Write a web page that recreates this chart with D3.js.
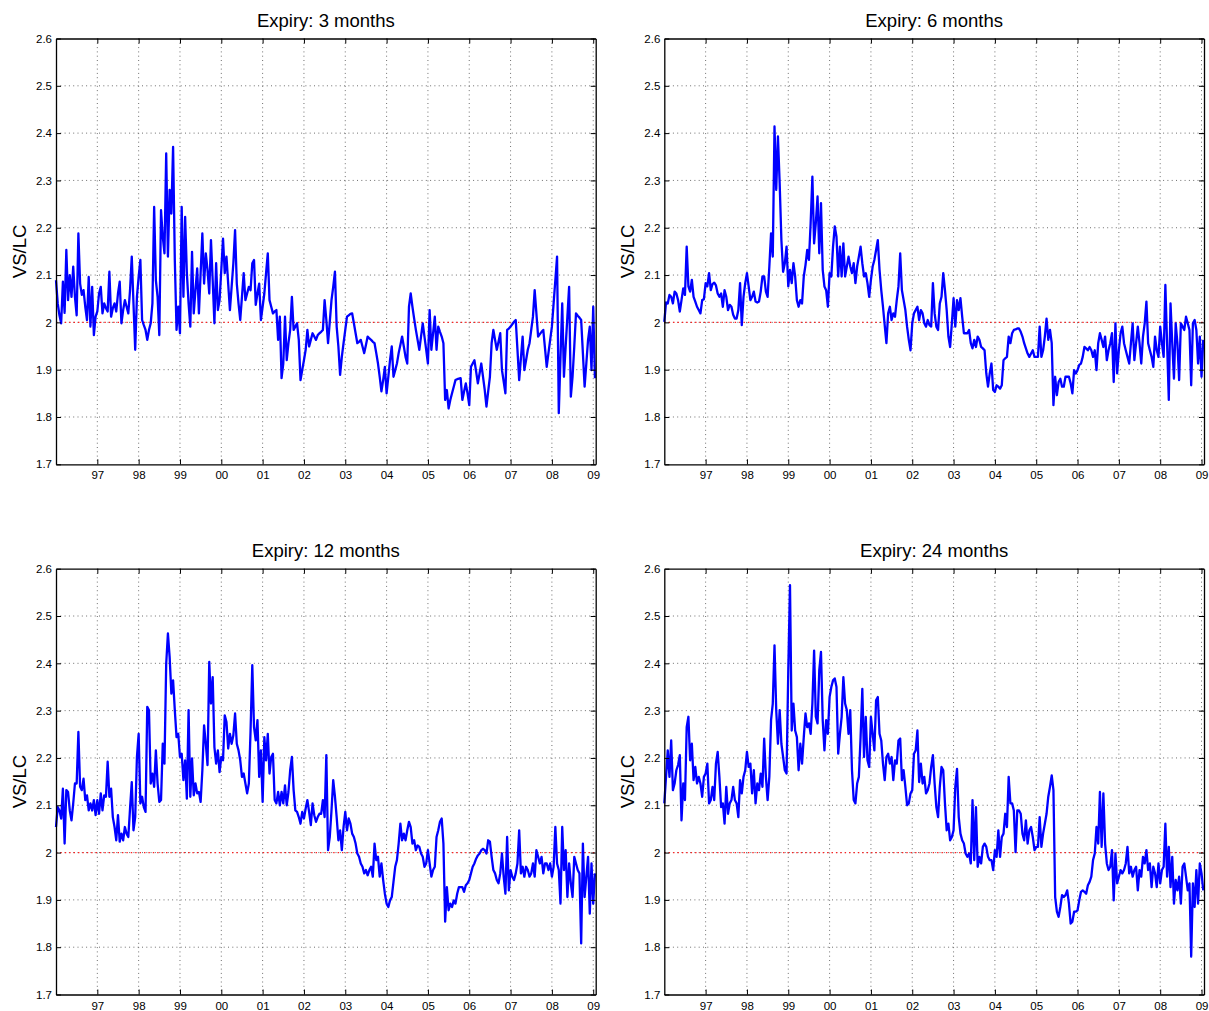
<!DOCTYPE html>
<html><head><meta charset="utf-8">
<script src="https://cdn.jsdelivr.net/npm/d3@7"></script>
<style>
body{margin:0;background:#fff}
svg{display:block}
text{font-family:"Liberation Sans",Arial,Helvetica,sans-serif;fill:#000}
</style>
</head><body><div id="chart"></div>
<script>
// ---------------- data ----------------
const titles = ["Expiry: 3 months","Expiry: 6 months","Expiry: 12 months","Expiry: 24 months"];
const yLabel = "VS/LC";
const startYear = 1996;          // first observation
const obsPerYear = 24;           // semi-monthly observations
const xDomain = [1996, 2009.06];
const yDomain = [1.7, 2.6];
const xTickYears = [1997,1998,1999,2000,2001,2002,2003,2004,2005,2006,2007,2008,2009];
const xTickLabels = ["97","98","99","00","01","02","03","04","05","06","07","08","09"];
const yTickValues = [1.7,1.8,1.9,2.0,2.1,2.2,2.3,2.4,2.5,2.6];
const yTickLabels = ["1.7","1.8","1.9","2","2.1","2.2","2.3","2.4","2.5","2.6"];
const refLevel = 2.0;

const vs3m = [
2.089,2.040,2.015,1.998,2.086,2.020,2.153,2.047,2.100,2.054,2.118,2.054,
2.015,2.188,2.082,2.058,2.068,2.033,2.005,2.096,1.991,2.075,1.973,2.012,
2.023,2.061,2.075,2.019,2.040,2.030,2.023,2.107,2.012,2.030,2.040,2.023,
2.061,2.086,1.998,2.026,2.047,2.033,2.019,2.068,2.139,2.040,1.942,2.054,
2.096,2.132,2.005,1.994,1.984,1.963,1.984,1.998,2.040,2.244,2.089,2.054,
1.973,2.237,2.181,2.146,2.357,2.139,2.280,2.230,2.371,2.132,1.984,2.033,
1.977,2.244,2.054,2.223,2.104,2.040,1.991,2.149,2.019,2.068,2.114,2.019,
2.104,2.188,2.082,2.146,2.111,2.061,2.174,2.089,1.998,2.125,2.026,2.047,
2.111,2.177,2.104,2.139,2.082,2.026,2.075,2.125,2.195,2.082,2.040,2.005,
2.054,2.104,2.047,2.061,2.075,2.068,2.125,2.132,2.037,2.061,2.082,2.005,
2.033,2.061,2.104,2.146,2.047,2.033,2.019,2.023,2.026,1.963,2.012,1.882,
1.913,2.012,1.920,1.956,1.984,2.054,1.984,1.991,1.998,1.963,1.878,1.899,
1.920,1.942,1.984,1.949,1.963,1.977,1.970,1.963,1.973,1.977,1.980,1.984,
2.047,2.005,1.956,2.001,2.047,2.075,2.107,1.991,1.949,1.889,1.927,1.956,
1.984,2.012,2.015,2.018,2.019,1.998,1.977,1.956,1.959,1.963,1.949,1.935,
1.952,1.970,1.966,1.963,1.959,1.956,1.935,1.913,1.885,1.854,1.878,1.906,
1.850,1.885,1.920,1.949,1.885,1.899,1.913,1.935,1.952,1.970,1.949,1.927,
1.913,2.033,2.061,2.033,2.008,1.984,1.963,1.942,1.970,1.998,1.970,1.942,
1.913,2.026,1.942,1.977,2.012,1.942,1.991,1.980,1.970,1.956,1.836,1.857,
1.818,1.836,1.850,1.864,1.878,1.880,1.881,1.882,1.836,1.854,1.871,1.850,
1.825,1.906,1.913,1.920,1.896,1.871,1.892,1.913,1.885,1.857,1.822,1.854,
1.885,1.956,1.984,1.963,1.942,1.959,1.977,1.899,1.875,1.850,1.984,1.987,
1.991,1.996,2.001,2.005,1.942,1.878,1.924,1.970,1.899,1.920,1.942,1.956,
1.984,2.012,2.068,2.019,1.970,1.975,1.980,1.984,1.945,1.906,1.935,1.963,
1.991,2.040,2.089,2.139,1.808,1.927,2.040,1.885,1.949,2.012,2.075,1.843,
1.885,1.949,2.019,2.014,2.010,2.005,1.935,1.864,1.913,1.963,1.991,1.899,
2.033,1.882];

const vs6m = [
2.001,2.042,2.040,2.058,2.054,2.040,2.065,2.061,2.047,2.023,2.047,2.072,
2.058,2.160,2.076,2.065,2.090,2.054,2.044,2.033,2.026,2.019,2.047,2.049,
2.083,2.076,2.104,2.068,2.081,2.084,2.078,2.061,2.054,2.061,2.033,2.068,
2.054,2.026,2.037,2.033,2.016,2.008,2.008,2.026,2.083,1.994,2.054,2.083,
2.104,2.076,2.047,2.054,2.065,2.044,2.042,2.044,2.065,2.097,2.097,2.065,
2.054,2.118,2.188,2.139,2.414,2.280,2.393,2.294,2.174,2.107,2.125,2.160,
2.076,2.111,2.083,2.125,2.097,2.047,2.033,2.047,2.040,2.097,2.121,2.153,
2.132,2.210,2.308,2.167,2.210,2.266,2.146,2.252,2.111,2.076,2.068,2.033,
2.104,2.097,2.160,2.203,2.181,2.097,2.160,2.097,2.167,2.097,2.118,2.139,
2.118,2.104,2.125,2.083,2.118,2.139,2.160,2.125,2.097,2.104,2.083,2.054,
2.090,2.118,2.132,2.153,2.174,2.111,2.068,2.033,1.994,1.956,2.019,2.033,
2.005,2.019,2.012,2.047,2.076,2.146,2.068,2.047,2.026,1.991,1.963,1.941,
1.998,2.019,2.026,2.033,2.005,2.026,2.019,1.998,1.991,2.005,1.994,1.991,
2.083,2.019,1.991,1.984,2.040,2.054,2.104,2.068,2.026,1.970,1.948,1.998,
2.051,1.991,2.047,2.026,2.051,2.012,1.977,1.977,1.977,1.984,1.956,1.945,
1.963,1.948,1.970,1.963,1.948,1.945,1.941,1.892,1.864,1.892,1.913,1.857,
1.853,1.867,1.864,1.860,1.867,1.920,1.924,1.927,1.970,1.956,1.977,1.984,
1.985,1.987,1.987,1.980,1.970,1.956,1.945,1.934,1.927,1.934,1.941,1.927,
1.927,1.927,1.991,1.927,1.941,1.970,2.008,1.963,1.984,1.956,1.825,1.885,
1.846,1.874,1.881,1.864,1.864,1.885,1.885,1.885,1.871,1.850,1.899,1.892,
1.899,1.910,1.913,1.927,1.948,1.945,1.941,1.948,1.941,1.927,1.941,1.899,
1.956,1.977,1.963,1.948,1.970,1.920,1.941,1.956,1.977,1.874,1.998,1.892,
1.941,1.977,1.991,1.956,1.941,1.927,1.913,1.956,1.998,1.920,1.956,1.991,
1.956,1.913,1.970,1.998,2.044,1.956,1.941,1.927,1.906,1.970,1.941,1.927,
1.991,1.956,1.927,2.079,1.956,1.836,2.040,1.956,1.881,1.998,1.956,1.878,
1.998,1.991,1.984,2.012,1.998,1.984,1.867,1.998,2.005,1.984,1.913,1.970,
1.885,1.963];

const vs12m = [
2.054,2.096,2.089,2.072,2.135,2.019,2.132,2.128,2.089,2.068,2.104,2.146,
2.146,2.255,2.139,2.132,2.156,2.111,2.121,2.089,2.104,2.089,2.111,2.079,
2.111,2.082,2.125,2.089,2.121,2.118,2.192,2.118,2.135,2.075,2.054,2.026,
2.079,2.023,2.040,2.026,2.054,2.040,2.033,2.093,2.149,2.047,2.075,2.202,
2.251,2.104,2.118,2.096,2.086,2.308,2.301,2.146,2.167,2.139,2.216,2.146,
2.107,2.111,2.230,2.188,2.399,2.463,2.413,2.336,2.364,2.301,2.244,2.251,
2.202,2.209,2.153,2.195,2.114,2.301,2.118,2.199,2.121,2.146,2.125,2.128,
2.107,2.174,2.269,2.230,2.185,2.403,2.315,2.371,2.223,2.188,2.216,2.170,
2.202,2.195,2.290,2.276,2.220,2.251,2.230,2.248,2.294,2.230,2.216,2.195,
2.160,2.167,2.146,2.125,2.146,2.258,2.396,2.265,2.237,2.280,2.160,2.216,
2.107,2.244,2.195,2.251,2.167,2.202,2.209,2.111,2.104,2.128,2.100,2.128,
2.104,2.142,2.100,2.128,2.174,2.202,2.132,2.089,2.086,2.075,2.061,2.086,
2.072,2.093,2.111,2.086,2.058,2.104,2.079,2.065,2.075,2.082,2.082,2.111,
2.075,2.206,2.005,2.033,2.089,2.153,2.118,2.075,2.026,2.047,2.005,2.054,
2.086,2.047,2.072,2.061,2.040,2.033,2.019,1.998,1.991,1.977,1.970,1.956,
1.963,1.952,1.963,1.970,1.949,2.019,1.984,1.991,1.949,1.977,1.942,1.913,
1.892,1.885,1.899,1.906,1.938,1.970,1.984,2.019,2.061,2.026,2.040,2.026,
2.047,2.065,2.054,2.019,2.026,2.005,2.015,2.012,1.998,1.991,1.970,1.977,
2.005,1.977,1.949,1.963,1.970,2.033,2.047,2.065,2.072,2.019,1.854,1.927,
1.878,1.892,1.885,1.899,1.892,1.913,1.927,1.927,1.927,1.917,1.931,1.935,
1.942,1.956,1.970,1.977,1.987,1.994,1.998,2.005,2.008,2.005,1.998,2.026,
2.023,1.991,1.963,1.956,1.942,1.935,1.956,1.998,1.949,1.913,2.033,1.920,
1.963,1.949,1.942,1.956,1.977,2.047,1.956,1.970,1.949,1.970,1.963,1.949,
1.956,1.977,1.949,2.005,1.991,1.977,1.991,1.956,1.977,1.977,1.963,1.977,
1.949,1.970,2.054,1.977,1.963,1.892,2.054,1.963,2.005,1.906,1.977,1.935,
1.906,1.991,1.977,1.963,1.956,1.808,2.019,1.906,1.949,1.991,1.871,1.977,
1.892,1.956];

const vs24m = [
2.104,2.160,2.216,2.160,2.237,2.132,2.146,2.174,2.185,2.206,2.068,2.146,
2.111,2.265,2.287,2.195,2.230,2.153,2.181,2.146,2.160,2.146,2.118,2.160,
2.167,2.188,2.104,2.111,2.139,2.111,2.188,2.213,2.160,2.096,2.104,2.061,
2.139,2.082,2.104,2.111,2.139,2.111,2.104,2.075,2.153,2.125,2.160,2.174,
2.213,2.181,2.188,2.125,2.174,2.104,2.146,2.132,2.167,2.139,2.241,2.160,
2.111,2.160,2.280,2.315,2.438,2.301,2.230,2.301,2.230,2.202,2.174,2.167,
2.385,2.565,2.258,2.315,2.258,2.244,2.174,2.230,2.188,2.244,2.294,2.265,
2.273,2.251,2.315,2.427,2.287,2.273,2.385,2.424,2.280,2.216,2.280,2.251,
2.329,2.350,2.364,2.368,2.350,2.209,2.251,2.287,2.371,2.315,2.301,2.251,
2.301,2.174,2.111,2.104,2.146,2.160,2.244,2.346,2.202,2.287,2.195,2.181,
2.287,2.251,2.216,2.322,2.329,2.251,2.237,2.188,2.153,2.202,2.209,2.188,
2.202,2.153,2.195,2.188,2.237,2.241,2.153,2.174,2.139,2.100,2.104,2.125,
2.132,2.209,2.216,2.258,2.149,2.188,2.146,2.160,2.125,2.132,2.146,2.181,
2.206,2.146,2.096,2.075,2.139,2.181,2.174,2.104,2.047,2.061,2.026,2.033,
2.047,2.139,2.177,2.075,2.040,2.026,2.019,1.998,1.991,1.998,1.977,2.111,
1.984,2.096,1.970,1.991,1.977,2.012,2.019,2.012,1.991,1.984,1.984,1.963,
2.005,1.991,2.047,1.991,2.033,2.040,2.082,2.054,2.160,2.104,2.104,2.089,
2.001,2.089,2.089,2.082,2.040,2.026,2.068,2.019,2.047,2.054,2.033,2.005,
2.012,2.012,2.075,2.012,2.040,2.061,2.082,2.118,2.139,2.163,2.132,1.906,
1.875,1.864,1.885,1.910,1.906,1.910,1.920,1.892,1.850,1.854,1.875,1.875,
1.878,1.899,1.917,1.920,1.917,1.913,1.931,1.938,1.949,1.984,1.998,2.054,
2.019,2.128,2.012,2.125,2.019,1.977,1.963,1.970,2.005,1.899,1.998,1.935,
1.949,1.963,1.956,1.963,1.977,2.012,1.956,1.970,1.949,1.963,1.970,1.920,
1.963,1.949,1.991,1.977,2.005,1.963,1.977,1.927,1.970,1.956,1.927,1.977,
1.935,1.963,1.970,2.061,1.949,2.012,1.927,1.991,1.892,1.942,1.920,1.949,
1.892,1.970,1.977,1.949,1.920,1.935,1.780,1.935,1.885,1.963,1.892,1.977,
1.956,1.920];

const seriesList = [vs3m, vs6m, vs12m, vs24m];

// ---------------- layout ----------------
const W = 1209, H = 1011;
const plotW = 539.7, plotH = 425.8;
const origins = [[56,38.5],[664.3,38.5],[56,568.7],[664.3,568.7]];

const svg = d3.select("#chart").append("svg").attr("width",W).attr("height",H);
svg.append("rect").attr("width",W).attr("height",H).attr("fill","#fff");

seriesList.forEach((vals, k) => {
  const [L, T] = origins[k];
  const x = d3.scaleLinear().domain(xDomain).range([L, L + plotW]);
  const y = d3.scaleLinear().domain(yDomain).range([T + plotH, T]);
  const g = svg.append("g");

  // grid
  g.append("g").selectAll("line").data(xTickYears).join("line")
    .attr("x1", d => x(d)).attr("x2", d => x(d))
    .attr("y1", T).attr("y2", T + plotH)
    .attr("stroke", "#6f6f6f").attr("stroke-width", 1)
    .attr("stroke-dasharray", "1,3.3");
  g.append("g").selectAll("line").data(yTickValues.slice(1, -1)).join("line")
    .attr("x1", L).attr("x2", L + plotW)
    .attr("y1", d => y(d)).attr("y2", d => y(d))
    .attr("stroke", "#6f6f6f").attr("stroke-width", 1)
    .attr("stroke-dasharray", "1,3.3");

  // reference level
  g.append("line")
    .attr("x1", L).attr("x2", L + plotW)
    .attr("y1", y(refLevel)).attr("y2", y(refLevel))
    .attr("stroke", "#ff2020").attr("stroke-width", 1.2)
    .attr("stroke-dasharray", "1.4,3");

  // series
  const line = d3.line()
    .x((d, i) => x(startYear + i / obsPerYear))
    .y(d => y(d));
  g.append("path").datum(vals)
    .attr("d", line)
    .attr("fill", "none")
    .attr("stroke", "#0000ff")
    .attr("stroke-width", 2.3)
    .attr("stroke-linejoin", "round");

  // axes (ticks inward, box)
  const styleAxis = sel => {
    sel.selectAll(".domain").attr("stroke", "#000").attr("stroke-width", 1.3);
    sel.selectAll(".tick line").attr("stroke", "#000").attr("stroke-width", 1);
    sel.selectAll("text").attr("font-size", "11.5px")
      .attr("font-family", "'Liberation Sans',Arial,Helvetica,sans-serif").attr("fill", "#000");
    sel.attr("font-family", null).attr("font-size", null);
  };
  g.append("g").attr("transform", `translate(0,${T + plotH})`)
    .call(d3.axisBottom(x).tickValues(xTickYears).tickFormat((d, i) => xTickLabels[i])
      .tickSizeInner(-5).tickSizeOuter(0).tickPadding(7))
    .call(styleAxis);
  g.append("g").attr("transform", `translate(0,${T})`)
    .call(d3.axisTop(x).tickValues(xTickYears).tickFormat("")
      .tickSizeInner(-5).tickSizeOuter(0))
    .call(styleAxis);
  g.append("g").attr("transform", `translate(${L},0)`)
    .call(d3.axisLeft(y).tickValues(yTickValues).tickFormat((d, i) => yTickLabels[i])
      .tickSizeInner(-5).tickSizeOuter(0).tickPadding(4))
    .call(styleAxis);
  g.append("g").attr("transform", `translate(${L + plotW},0)`)
    .call(d3.axisRight(y).tickValues(yTickValues).tickFormat("")
      .tickSizeInner(-5).tickSizeOuter(0))
    .call(styleAxis);

  // title
  g.append("text")
    .attr("x", L + plotW / 2).attr("y", T - 11.5)
    .attr("text-anchor", "middle")
    .attr("font-size", "18.5px")
    .text(titles[k]);

  // y label
  g.append("text")
    .attr("transform", `translate(${L - 30},${T + plotH / 2}) rotate(-90)`)
    .attr("text-anchor", "middle")
    .attr("font-size", "18.5px")
    .text(yLabel);
});
</script>
</body></html>
